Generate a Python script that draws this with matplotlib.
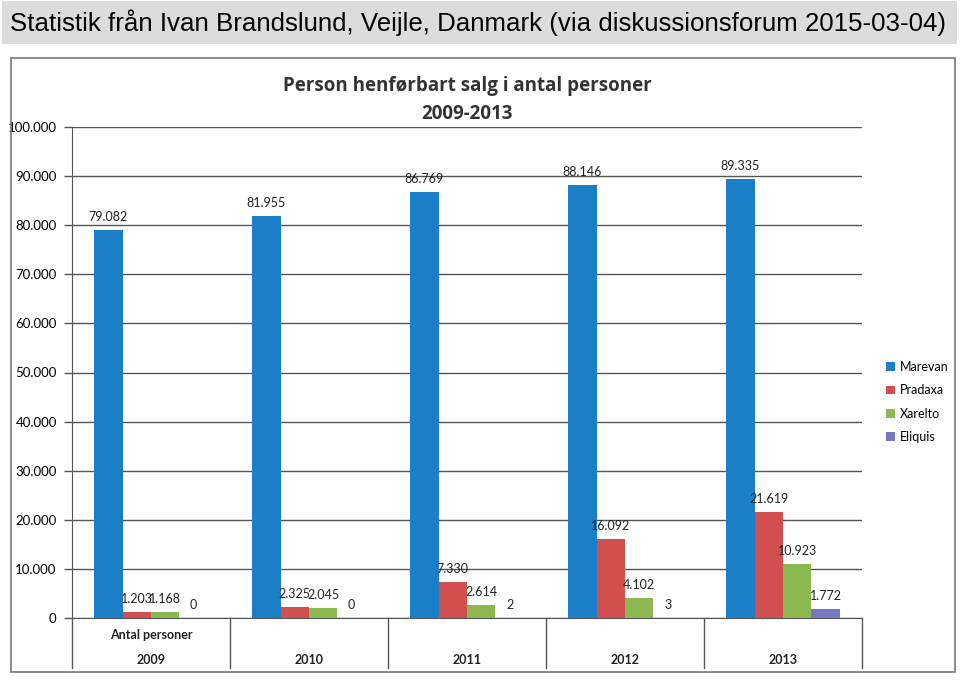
import numpy as np
import matplotlib.pyplot as plt
from matplotlib.patches import Rectangle
from matplotlib.ticker import FuncFormatter
import matplotlib.transforms as mtransforms

years = ["2009", "2010", "2011", "2012", "2013"]
series = ["Marevan", "Pradaxa", "Xarelto", "Eliquis"]
marevan = [79082, 81955, 86769, 88146, 89335]
pradaxa = [1203, 2325, 7330, 16092, 21619]
xarelto = [1168, 2045, 2614, 4102, 10923]
eliquis = [0, 0, 2, 3, 1772]
colors = ["#1a7fc6", "#d0504f", "#8cb94f", "#7479c2"]

header = "Statistik från Ivan Brandslund, Veijle, Danmark (via diskussionsforum 2015-03-04)"
title = "Person henførbart salg i antal personer\n2009-2013"

W, H = 960, 682
fig = plt.figure(figsize=(W / 100, H / 100), dpi=100)
fig.patch.set_facecolor("white")

# header strip
fig.patches.append(Rectangle((2 / W, 1 - 44 / H), 955 / W, 43 / H, transform=fig.transFigure,
                             facecolor="#dcdcdc", edgecolor="none"))
fig.text(10 / W, 1 - 23 / H, header, fontsize=18.6, family="Liberation Sans", va="center", ha="left")

# scanned chart border
fig.patches.append(Rectangle((11 / W, 1 - 672 / H), 944 / W, 614 / H, transform=fig.transFigure,
                             facecolor="none", edgecolor="#777777", lw=1.2))

ax = fig.add_axes([72 / W, 1 - 618 / H, 790 / W, 491 / H])
x = np.arange(len(years))
w = 0.18
data = [marevan, pradaxa, xarelto, eliquis]
for i, (name, vals, c) in enumerate(zip(series, data, colors)):
    pos = x + (i - 1.5) * w
    ax.bar(pos, vals, w, color=c, label=name, zorder=3)
    for px, v in zip(pos, vals):
        lab = f"{v:,}".replace(",", ".")
        ax.annotate(lab, (px, v), xytext=(0, 5), textcoords="offset points",
                    ha="center", va="bottom", fontsize=9, family="Lato", color="#222222")

ax.set_xlim(-0.5, len(years) - 0.5)
ax.set_ylim(0, 100000)
ax.set_yticks(np.arange(0, 100001, 10000))
ax.yaxis.set_major_formatter(FuncFormatter(lambda v, p: f"{int(v):,}".replace(",", ".")))
ax.tick_params(axis="y", length=6, width=1, color="#555555", labelsize=9.5, pad=5)
for lab in ax.get_yticklabels():
    lab.set_family("Lato")
ax.set_xticks([])
ax.grid(axis="y", color="#555555", lw=1, zorder=0)
for s in ["top", "right"]:
    ax.spines[s].set_visible(False)
ax.spines["left"].set_color("#555555")
ax.spines["bottom"].set_color("#555555")

# category axis with separators
trans = mtransforms.blended_transform_factory(ax.transData, ax.transAxes)
depth = -50 / 491
for b in np.arange(-0.5, len(years), 1):
    ax.plot([b, b], [0, depth], transform=trans, color="#555555", lw=1, clip_on=False)
for xi, yr in zip(x, years):
    ax.text(xi, -42 / 491, yr, transform=trans, ha="center", va="center", fontsize=9,
            family="Lato", fontweight="bold", color="#222222")
ax.text(x[0], -17 / 491, "Antal personer", transform=trans, ha="center", va="center",
        fontsize=9, family="Lato", fontweight="bold", color="#222222")

ax.set_title(title, fontsize=13.5, fontweight="bold", family="Open Sans", color="#333333",
             pad=6, linespacing=1.5)

ax.legend(loc="center left", bbox_to_anchor=(875 / W, 1 - 402 / H), bbox_transform=fig.transFigure,
          frameon=False, handlelength=0.7, handleheight=0.7, handletextpad=0.4, labelspacing=0.9,
          prop={"family": "Lato", "size": 9})

fig.savefig("out.png", dpi=100)
